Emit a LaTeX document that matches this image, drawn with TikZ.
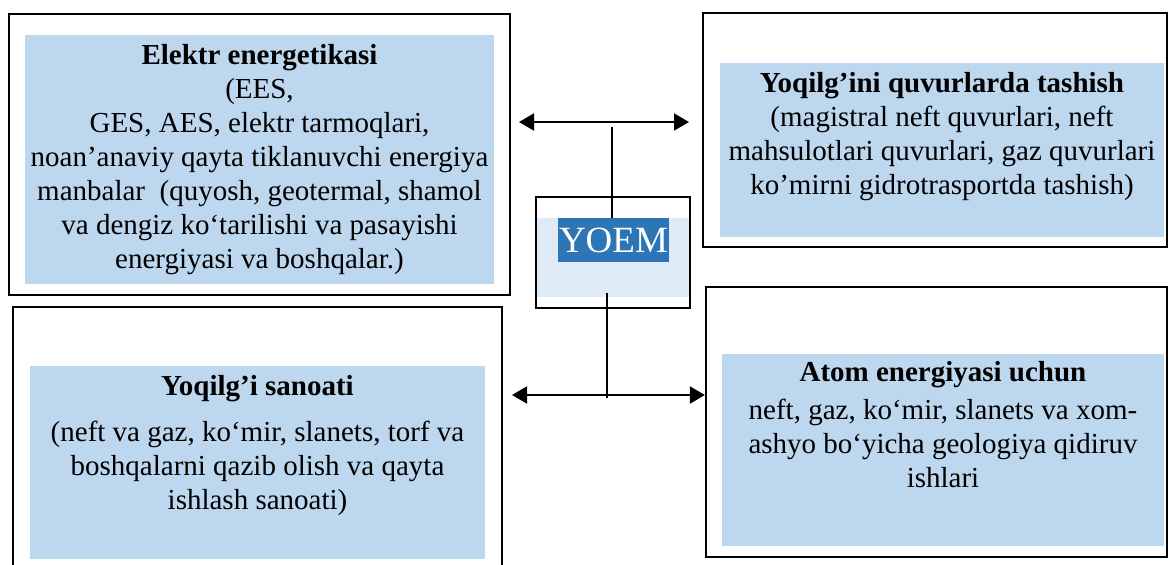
\documentclass[tikz,border=0pt]{standalone}
\usepackage{fontspec}
\setmainfont{Liberation Serif}
\usetikzlibrary{arrows.meta}
\usetikzlibrary{fit}
\definecolor{fillblue}{HTML}{BDD7EE}
\definecolor{yoemdark}{HTML}{2E75B6}
\definecolor{yoemlight}{HTML}{DEEAF6}

\begin{document}
\begin{tikzpicture}[x=0.5pt,y=-0.5pt,
	outer/.style={draw,line width=1.1pt,inner sep=0pt},
	inner/.style={fill=fillblue,inner sep=0pt},
	boxtext/.style={align=center,anchor=north,inner sep=0pt,font=\fontsize{14.5}{17}\selectfont},
	link/.style={line width=1pt},
	dbl/.style={link,{Triangle[length=7.5pt,width=8.5pt]}-{Triangle[length=7.5pt,width=8.5pt]}}]
	\clip (0,0) rectangle (1168,564);
	\foreach \n/\a/\b/\c/\d/\e/\f/\g/\h in {elec/9/14/510/295/25/35/494/284,pipe/703/13/1167/247/720/63/1164/237,fuel/13/307/502/580/30/366/485/559,atom/706/287/1167/557/722/354/1164/546} {
		\node[outer,fit={(\a,\b) (\c,\d)}] (\n out) {};
		\node[inner,fit={(\e,\f) (\g,\h)}] (\n fill) {};
	}
	\node[boxtext] (electext) at (259.5,44) {\textbf{Elektr energetikasi}\\(EES,\\GES, AES, elektr tarmoqlari,\\noan’anaviy qayta tiklanuvchi energiya\\manbalar\ \ (quyosh, geotermal, shamol\\va dengiz ko‘tarilishi va pasayishi\\energiyasi va boshqalar.)};
	\node[boxtext] (pipetext) at (942,72) {\textbf{Yoqilg’ini quvurlarda tashish}\\(magistral neft quvurlari, neft\\mahsulotlari quvurlari, gaz quvurlari\\ko’mirni gidrotrasportda tashish)};
	\node[boxtext] (fueltext) at (257.5,375) {\textbf{Yoqilg’i sanoati}\\[6pt](neft va gaz, ko‘mir, slanets, torf va\\boshqalarni qazib olish va qayta\\ishlash sanoati)};
	\node[boxtext] (atomtext) at (943,361) {\textbf{Atom energiyasi uchun}\\[2pt]neft, gaz, ko‘mir, slanets va xom-\\ashyo bo‘yicha geologiya qidiruv\\ishlari};

	\node[outer,fit={(536,197) (690,308)}] (yoemout) {};
	\node[fill=yoemlight,inner sep=0pt,fit={(537,218) (689,297)}] (yoemfill) {};
	\node[fill=yoemdark,inner sep=0pt,fit={(558,218) (669,262)}] (yoemmark) {};
	\node[text=white,inner sep=0pt,font=\fontsize{18.5}{20}\selectfont] (yoem) at (yoemmark.center) {YOEM};

	\coordinate (tl) at (519,122);
	\coordinate (tr) at (689,122);
	\coordinate (tm) at (612,127);
	\draw[dbl] (tl) -- (tr);
	\draw[link] (tm) -- (tm |- yoemfill.north);
	\coordinate (bl) at (512,395);
	\coordinate (bm) at (607,293);
	\draw[dbl] (bl) -- (atomout.west |- bl);
	\draw[link] (bm) -- ([yshift=-1.5pt]bm |- bl);
\end{tikzpicture}
\end{document}
